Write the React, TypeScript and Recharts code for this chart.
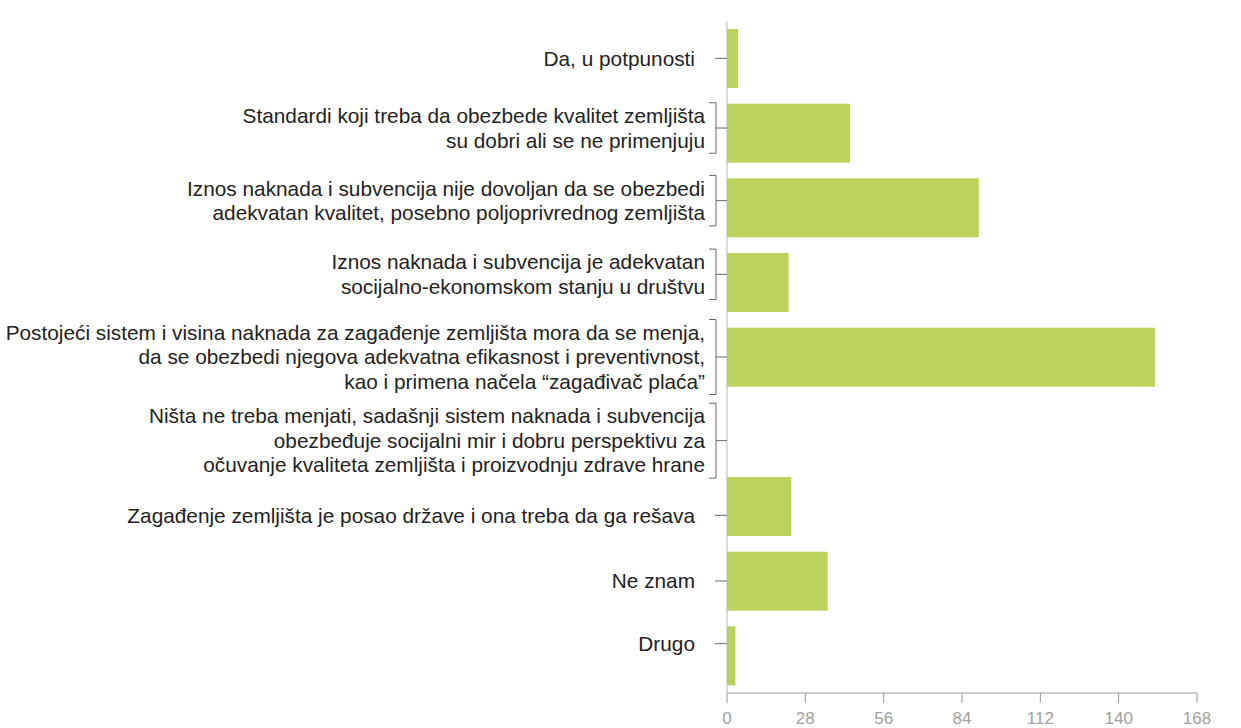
import React from 'react';
import { BarChart, Bar, XAxis, YAxis } from 'recharts';

const categories: string[] = [
  'Da, u potpunosti',
  'Standardi koji treba da obezbede kvalitet zemljišta\nsu dobri ali se ne primenjuju',
  'Iznos naknada i subvencija nije dovoljan da se obezbedi\nadekvatan kvalitet, posebno poljoprivrednog zemljišta',
  'Iznos naknada i subvencija je adekvatan\nsocijalno-ekonomskom stanju u društvu',
  'Postojeći sistem i visina naknada za zagađenje zemljišta mora da se menja,\nda se obezbedi njegova adekvatna efikasnost i preventivnost,\nkao i primena načela “zagađivač plaća”',
  'Ništa ne treba menjati, sadašnji sistem naknada i subvencija\nobezbeđuje socijalni mir i dobru perspektivu za\nočuvanje kvaliteta zemljišta i proizvodnju zdrave hrane',
  'Zagađenje zemljišta je posao države i ona treba da ga rešava',
  'Ne znam',
  'Drugo',
];

const counts: number[] = [4, 44, 90, 22, 153, 0, 23, 36, 3];

const xTicks: number[] = [0, 28, 56, 84, 112, 140, 168];

// vertical nudge of each category label (layout only)
const labelNudge: number[] = [0, -5, -7, -8, 0, 9, 9, 0, -12];

const data = categories.map((c, i) => ({ label: c, value: counts[i] }));

const FONT = '"Liberation Sans", Arial, sans-serif';
const LABEL_SIZE = 20.8;
const LINE_H = 24.5;

const YTick = (props: any) => {
  const { x, payload, index } = props;
  const y = props.y + (labelNudge[index] || 0);
  const lines: string[] = String(payload.value).split('\n');
  const n = lines.length;
  const textRight = n === 1 ? x - 32 : x - 22;
  const firstC = y - ((n - 1) * LINE_H) / 2;
  const lastC = y + ((n - 1) * LINE_H) / 2;
  return (
    <g>
      {lines.map((ln, i) => (
        <text
          key={i}
          x={textRight}
          y={firstC + i * LINE_H}
          dy="0.35em"
          textAnchor="end"
          fill="#222"
          fontSize={LABEL_SIZE}
          fontFamily={FONT}
        >
          {ln}
        </text>
      ))}
      {n === 1 ? (
        <line x1={x - 12} x2={x} y1={y} y2={y} stroke="#666" strokeWidth={1} />
      ) : (
        <g stroke="#666" strokeWidth={1} fill="none">
          <polyline
            points={`${x - 18},${firstC - 13} ${x - 11},${firstC - 13} ${x - 11},${lastC + 13} ${x - 18},${lastC + 13}`}
          />
          <line x1={x - 11} x2={x} y1={y} y2={y} />
        </g>
      )}
    </g>
  );
};

export default function App() {
  return (
    <div style={{ position: 'absolute', left: 0, top: 0, background: '#fff' }}>
      <BarChart
        width={1241}
        height={728}
        data={data}
        layout="vertical"
        margin={{ top: 21, right: 44, bottom: 5, left: 0 }}
        barSize={59}
      >
        <XAxis
          type="number"
          domain={[0, 168]}
          ticks={xTicks}
          interval={0}
          height={30}
          tickSize={10}
          tickMargin={9}
          axisLine={{ stroke: '#999' }}
          tickLine={{ stroke: '#999' }}
          tick={{ fill: '#a0a0a0', fontSize: 17, fontFamily: FONT }}
        />
        <YAxis
          type="category"
          dataKey="label"
          width={727}
          interval={0}
          tickSize={0}
          tickMargin={0}
          tickLine={false}
          axisLine={{ stroke: '#b8b8c8' }}
          tick={<YTick />}
        />
        <Bar dataKey="value" fill="#bbd35c" isAnimationActive={false} />
      </BarChart>
    </div>
  );
}
